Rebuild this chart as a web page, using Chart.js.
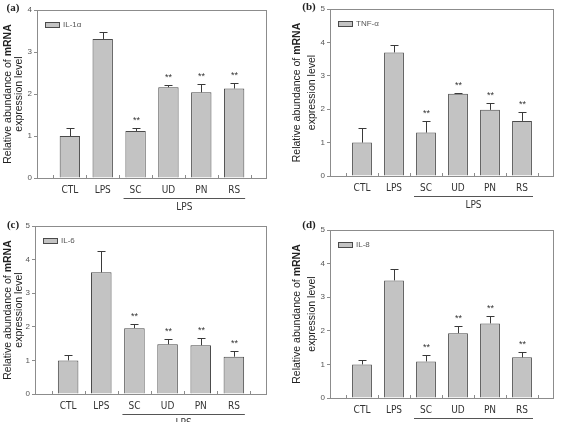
<!DOCTYPE html>
<html>
<head>
<meta charset="utf-8">
<script src="https://cdn.jsdelivr.net/npm/chart.js@4/dist/chart.umd.min.js"></script>
<style>
body { margin:0; background:#fff; width:565px; height:422px; position:relative; overflow:hidden; }
canvas { position:absolute; }
</style>
</head>
<body>
<canvas id="pa" width="285" height="211" style="left:0;top:0"></canvas>
<canvas id="pb" width="280" height="211" style="left:285px;top:0"></canvas>
<canvas id="pc" width="285" height="211" style="left:0;top:211px"></canvas>
<canvas id="pd" width="280" height="211" style="left:285px;top:211px"></canvas>
<script>
// groups on the x axis
var groups = ['CTL', 'LPS', 'SC', 'UD', 'PN', 'RS'];
var lpsGroups = ['SC', 'UD', 'PN', 'RS'];   // underlined as "LPS"
var starred = ['SC', 'UD', 'PN', 'RS'];     // marked **

// mean relative mRNA level and error (upper bar only)
var il1aMean = [1.00, 3.31, 1.12, 2.16, 2.04, 2.13];
var il1aErr  = [0.20, 0.17, 0.07, 0.06, 0.19, 0.13];
var tnfMean  = [1.00, 3.70, 1.30, 2.46, 1.98, 1.65];
var tnfErr   = [0.44, 0.23, 0.35, 0.03, 0.20, 0.26];
var il6Mean  = [1.00, 3.62, 1.96, 1.48, 1.45, 1.11];
var il6Err   = [0.17, 0.65, 0.12, 0.15, 0.22, 0.18];
var il8Mean  = [1.00, 3.50, 1.09, 1.93, 2.22, 1.21];
var il8Err   = [0.12, 0.33, 0.19, 0.20, 0.23, 0.16];

var yTitle1 = 'Relative abundance of ';
var yTitle1b = 'mRNA';
var yTitle2 = 'expression level';

var BAR_FILL = '#c3c3c3';
var BAR_LINE = '#4a4a4a';
var FRAME = '#8c8c8c';
var INK = '#333';

var panels = [
  { id:'pa', letter:'(a)', name:'IL-1\u03b1', mean:il1aMean, err:il1aErr, max:4,
    w:285, h:211, l:37, r:267, t:10, b:178, lx:13, ly:8, tx1:8, tx2:19 },
  { id:'pb', letter:'(b)', name:'TNF-\u03b1', mean:tnfMean, err:tnfErr, max:5,
    w:280, h:211, l:45, r:269, t:9, b:176, lx:24, ly:7, tx1:12, tx2:27 },
  { id:'pc', letter:'(c)', name:'IL-6', mean:il6Mean, err:il6Err, max:5,
    w:285, h:211, l:35, r:267, t:15, b:183, lx:13, ly:14, tx1:8, tx2:19 },
  { id:'pd', letter:'(d)', name:'IL-8', mean:il8Mean, err:il8Err, max:5,
    w:280, h:211, l:45, r:269, t:19, b:187, lx:24, ly:14, tx1:12, tx2:27 }
];

var extras = {
  id: 'extras',
  afterDatasetsDraw: function (chart, args, opts) {
    var p = opts.panel;
    var c = chart.ctx;
    var a = chart.chartArea;
    var xs = chart.scales.x, ys = chart.scales.y;
    var bars = chart.getDatasetMeta(0).data;
    c.save();

    // frame
    c.strokeStyle = FRAME;
    c.lineWidth = 1;
    c.strokeRect(Math.round(a.left) + 0.5, Math.round(a.top) + 0.5,
                 Math.round(a.right - a.left) - 1, Math.round(a.bottom - a.top));

    // small inner ticks on x axis between groups
    for (var k = 0; k <= groups.length; k++) {
      var tx = Math.round((xs.getPixelForValue(k) + xs.getPixelForValue(k + 1)) / 2) + 0.5;
      c.beginPath();
      c.moveTo(tx, a.bottom);
      c.lineTo(tx, a.bottom - 3);
      c.stroke();
    }

    // error bars + stars
    c.strokeStyle = '#3a3a3a';
    for (var i = 0; i < groups.length; i++) {
      var bx = Math.round(bars[i + 1].x) + 0.5;
      var y0 = ys.getPixelForValue(p.mean[i]);
      var y1 = Math.round(ys.getPixelForValue(p.mean[i] + p.err[i])) + 0.5;
      c.beginPath();
      c.moveTo(bx, y0);
      c.lineTo(bx, y1);
      c.moveTo(bx - 4, y1);
      c.lineTo(bx + 4, y1);
      c.stroke();
      if (starred.indexOf(groups[i]) >= 0) {
        c.fillStyle = INK;
        c.font = '9px "Liberation Sans", sans-serif';
        c.textAlign = 'center';
        c.textBaseline = 'middle';
        c.fillText('**', bx, y1 - 8);
      }
    }

    // legend
    var lx = a.left + 8, ly = a.top + 12;
    c.fillStyle = BAR_FILL;
    c.fillRect(lx, ly, 14, 5);
    c.strokeStyle = BAR_LINE;
    c.strokeRect(lx + 0.5, ly + 0.5, 14, 5);
    c.fillStyle = '#555';
    c.font = '8px "Liberation Sans", sans-serif';
    c.textAlign = 'left';
    c.textBaseline = 'middle';
    c.fillText(p.name, lx + 18, ly + 3);

    // LPS bracket under treated groups
    var first = groups.indexOf(lpsGroups[0]) + 1;
    var last = groups.indexOf(lpsGroups[lpsGroups.length - 1]) + 1;
    var x1 = bars[first].x - 12, x2 = bars[last].x + 11;
    var by = Math.round(a.bottom + 20) + 0.5;
    c.strokeStyle = '#555';
    c.beginPath();
    c.moveTo(x1, by);
    c.lineTo(x2, by);
    c.stroke();
    c.fillStyle = INK;
    c.font = '10px "Liberation Sans Narrow", "DejaVu Sans Condensed", sans-serif';
    c.textAlign = 'center';
    c.textBaseline = 'middle';
    c.fillText('LPS', (x1 + x2) / 2, a.bottom + 29);

    // panel letter
    c.font = 'bold 11px "Liberation Serif", serif';
    c.fillStyle = '#222';
    c.fillText(p.letter, p.lx, p.ly);

    // y axis title (two lines, rotated)
    var cy = (a.top + a.bottom) / 2;
    c.translate(p.tx1, cy);
    c.rotate(-Math.PI / 2);
    c.font = '10.5px "Liberation Sans", sans-serif';
    var w1 = c.measureText(yTitle1).width;
    c.font = 'bold 10.5px "Liberation Sans", sans-serif';
    var w2 = c.measureText(yTitle1b).width;
    c.textAlign = 'left';
    c.font = '10.5px "Liberation Sans", sans-serif';
    c.fillText(yTitle1, -(w1 + w2) / 2, 0);
    c.font = 'bold 10.5px "Liberation Sans", sans-serif';
    c.fillText(yTitle1b, -(w1 + w2) / 2 + w1, 0);
    c.setTransform(1, 0, 0, 1, 0, 0);
    c.translate(p.tx2, cy);
    c.rotate(-Math.PI / 2);
    c.textAlign = 'center';
    c.font = '10.5px "Liberation Sans", sans-serif';
    c.fillText(yTitle2, 0, 0);

    c.restore();
  }
};

panels.forEach(function (p) {
  var labels = [''].concat(groups, ['']);
  var values = [null].concat(p.mean, [null]);
  new Chart(document.getElementById(p.id).getContext('2d'), {
    type: 'bar',
    data: {
      labels: labels,
      datasets: [{
        data: values,
        backgroundColor: BAR_FILL,
        borderColor: BAR_LINE,
        borderWidth: 1,
        barPercentage: 0.62,
        categoryPercentage: 1
      }]
    },
    options: {
      responsive: false,
      animation: false,
      layout: { padding: { left: 0, right: p.w - p.r, top: p.t, bottom: 0 } },
      plugins: {
        legend: { display: false },
        tooltip: { enabled: false },
        extras: { panel: p }
      },
      scales: {
        x: {
          offset: false,
          grid: { display: false, drawTicks: false, tickLength: 0 },
          border: { display: false },
          ticks: {
            autoSkip: false, maxRotation: 0, padding: 6,
            color: INK,
            font: { family: '"Liberation Sans Narrow", "DejaVu Sans Condensed", sans-serif', size: 10 }
          },
          afterFit: function (s) { s.height = p.h - p.b; }
        },
        y: {
          min: 0, max: p.max,
          grid: { drawOnChartArea: false, tickLength: 3, color: FRAME },
          border: { display: false },
          ticks: {
            stepSize: 1, padding: 2, color: '#555',
            font: { family: '"Liberation Sans", sans-serif', size: 8 }
          },
          afterFit: function (s) { s.width = p.l; }
        }
      }
    },
    plugins: [extras]
  });
});
</script>
</body>
</html>
